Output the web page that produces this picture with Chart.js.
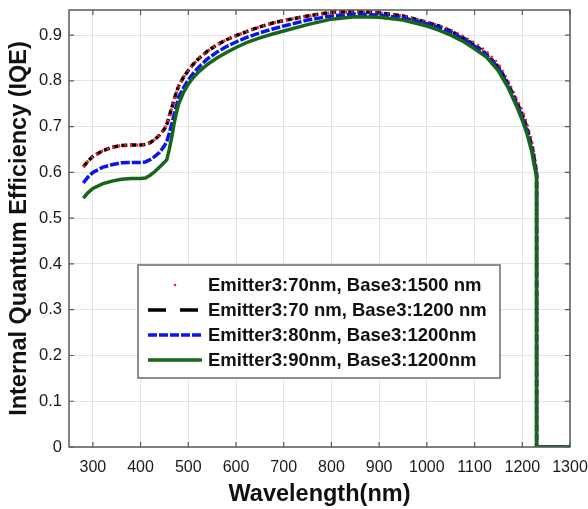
<!DOCTYPE html>
<html>
<head>
<meta charset="utf-8">
<script src="https://cdn.jsdelivr.net/npm/chart.js@4"></script>
<style>
  html, body { margin: 0; padding: 0; background: #fff; }
  #wrap { width: 588px; height: 509px; }
</style>
</head>
<body>
<div id="wrap"><canvas id="iqe"></canvas></div>
<script>
// wavelength samples (nm); 1230 repeats for the vertical cut-off
const WAVELENGTH = [280, 290, 300, 320, 340, 360, 380, 400, 410, 420, 430, 440, 450, 455, 460, 465, 470, 475, 480, 490,
  500, 510, 520, 540, 560, 580, 600, 625, 650, 675, 700, 750, 800, 850, 900, 950, 1000, 1025, 1050, 1075,
  1100, 1125, 1150, 1170, 1190, 1200, 1210, 1220, 1225, 1230, 1230, 1300];

const IQE_E70_B1500 = [0.612, 0.625, 0.635, 0.647, 0.655, 0.659, 0.660, 0.660, 0.661, 0.665, 0.672, 0.682, 0.695, 0.705, 0.722, 0.740, 0.758, 0.775, 0.789, 0.808,
  0.823, 0.836, 0.847, 0.865, 0.879, 0.890, 0.899, 0.909, 0.918, 0.926, 0.932, 0.942, 0.949, 0.951, 0.948, 0.942, 0.929, 0.921, 0.911, 0.898,
  0.883, 0.864, 0.837, 0.800, 0.757, 0.735, 0.705, 0.668, 0.640, 0.605, 0, 0];

const IQE_E70_B1200 = [0.612, 0.625, 0.635, 0.647, 0.655, 0.659, 0.660, 0.660, 0.661, 0.665, 0.672, 0.682, 0.695, 0.705, 0.722, 0.740, 0.758, 0.775, 0.789, 0.808,
  0.823, 0.836, 0.847, 0.865, 0.879, 0.890, 0.899, 0.909, 0.918, 0.926, 0.932, 0.942, 0.950, 0.952, 0.949, 0.942, 0.928, 0.920, 0.909, 0.895,
  0.879, 0.859, 0.831, 0.794, 0.750, 0.727, 0.697, 0.658, 0.630, 0.598, 0, 0];

const IQE_E80_B1200 = [0.577, 0.590, 0.600, 0.611, 0.617, 0.621, 0.622, 0.622, 0.623, 0.628, 0.635, 0.644, 0.658, 0.668, 0.685, 0.705, 0.725, 0.745, 0.765, 0.785,
  0.802, 0.816, 0.828, 0.848, 0.863, 0.875, 0.885, 0.896, 0.905, 0.913, 0.920, 0.933, 0.942, 0.946, 0.944, 0.938, 0.925, 0.917, 0.906, 0.893,
  0.876, 0.857, 0.828, 0.791, 0.745, 0.720, 0.690, 0.652, 0.624, 0.594, 0, 0];

const IQE_E90_B1200 = [0.544, 0.556, 0.565, 0.575, 0.581, 0.585, 0.587, 0.587, 0.588, 0.594, 0.602, 0.612, 0.622, 0.628, 0.650, 0.675, 0.705, 0.730, 0.750, 0.775,
  0.793, 0.807, 0.818, 0.836, 0.850, 0.862, 0.873, 0.885, 0.894, 0.902, 0.909, 0.923, 0.935, 0.940, 0.939, 0.933, 0.920, 0.911, 0.900, 0.887,
  0.870, 0.852, 0.822, 0.786, 0.740, 0.714, 0.684, 0.645, 0.616, 0.590, 0, 0];

const SERIES_LABELS = ['Emitter3:70nm, Base3:1500 nm', 'Emitter3:70 nm, Base3:1200 nm',
  'Emitter3:80nm, Base3:1200nm', 'Emitter3:90nm, Base3:1200nm'];

const X_TICKS = [300, 400, 500, 600, 700, 800, 900, 1000, 1100, 1200, 1300];
const Y_TICKS = [0, 0.1, 0.2, 0.3, 0.4, 0.5, 0.6, 0.7, 0.8, 0.9];

const FONT = "'Liberation Sans', Arial, sans-serif";

const toPoints = (ys) => WAVELENGTH.map((x, i) => ({ x, y: ys[i] }));

// box round the plot, with inward ticks on all four sides
const frame = {
  id: 'frame',
  afterDatasetsDraw(chart) {
    const { ctx, chartArea: a, scales } = chart;
    ctx.save();
    ctx.strokeStyle = '#5a5a5a';
    ctx.lineWidth = 1.5;
    ctx.strokeRect(a.left, a.top, a.right - a.left, a.bottom - a.top);
    ctx.lineWidth = 1.2;
    ctx.beginPath();
    for (const v of X_TICKS) {
      const px = scales.x.getPixelForValue(v);
      ctx.moveTo(px, a.bottom); ctx.lineTo(px, a.bottom - 5);
      ctx.moveTo(px, a.top); ctx.lineTo(px, a.top + 5);
    }
    for (const v of Y_TICKS) {
      const py = scales.y.getPixelForValue(v);
      ctx.moveTo(a.left, py); ctx.lineTo(a.left + 5, py);
      ctx.moveTo(a.right, py); ctx.lineTo(a.right - 5, py);
    }
    ctx.stroke();
    ctx.restore();
  },
};

// MATLAB-like legend box inside the plot
const legendBox = {
  id: 'legendBox',
  afterDraw(chart) {
    const { ctx, chartArea: a } = chart;
    const x0 = a.left + 69, y0 = a.top + 255, w = 362, h = 113;
    ctx.save();
    ctx.fillStyle = '#fff';
    ctx.fillRect(x0, y0, w, h);
    ctx.strokeStyle = '#6a6a6a';
    ctx.lineWidth = 1.5;
    ctx.strokeRect(x0, y0, w, h);

    chart.data.datasets.forEach((ds, i) => {
      const cy = y0 + 20 + i * 25;
      ctx.save();
      if (i === 0) {
        ctx.fillStyle = ds.borderColor;
        ctx.beginPath();
        ctx.arc(x0 + 37, cy, 1.3, 0, Math.PI * 2);
        ctx.fill();
      } else {
        ctx.strokeStyle = ds.borderColor;
        ctx.lineWidth = 3.5;
        ctx.setLineDash(i === 1 ? [18, 14] : (ds.borderDash || []));
        ctx.beginPath();
        ctx.moveTo(x0 + 10, cy);
        ctx.lineTo(x0 + 64, cy);
        ctx.stroke();
      }
      ctx.restore();
      ctx.fillStyle = '#111';
      ctx.font = 'bold 18.5px ' + FONT;
      ctx.textBaseline = 'middle';
      ctx.fillText(ds.label, x0 + 70, cy + 1);
    });
    ctx.restore();
  },
};

new Chart(document.getElementById('iqe'), {
  type: 'line',
  data: {
    datasets: [
      {
        label: SERIES_LABELS[0],
        data: toPoints(IQE_E70_B1500),
        borderColor: '#ff1a1a',
        borderWidth: 3,
        borderDash: [2, 4],
        order: 2,
      },
      {
        label: SERIES_LABELS[1],
        data: toPoints(IQE_E70_B1200),
        borderColor: '#000000',
        borderWidth: 3.5,
        borderDash: [6, 3],
        order: 3,
      },
      {
        label: SERIES_LABELS[2],
        data: toPoints(IQE_E80_B1200),
        borderColor: '#0a14f0',
        borderWidth: 3.5,
        borderDash: [9, 2],
        order: 1,
      },
      {
        label: SERIES_LABELS[3],
        data: toPoints(IQE_E90_B1200),
        borderColor: '#16661a',
        borderWidth: 3.5,
        order: 0,
      },
    ],
  },
  options: {
    responsive: true,
    maintainAspectRatio: false,
    animation: false,
    elements: { point: { radius: 0 }, line: { tension: 0 } },
    layout: { padding: { top: 10, right: 18, left: 0, bottom: 0 } },
    plugins: {
      legend: { display: false },
      tooltip: { enabled: false },
    },
    scales: {
      x: {
        type: 'linear',
        min: 250,
        max: 1300,
        afterBuildTicks: (scale) => { scale.ticks = X_TICKS.map((value) => ({ value })); },
        afterFit: (scale) => {
          scale.height = 62;
          scale.paddingLeft = 0;
          scale.paddingRight = 0;
        },
        grid: { color: '#e4e4e4', drawTicks: false },
        border: { display: false },
        ticks: {
          color: '#1a1a1a', padding: 11, maxRotation: 0, autoSkip: false,
          font: { family: FONT, size: 16 },
          callback: (v) => String(v),
        },
        title: {
          display: true,
          text: 'Wavelength(nm)',
          color: '#111',
          padding: { top: 3, bottom: 0 },
          font: { family: FONT, size: 23.5, weight: 'bold' },
        },
      },
      y: {
        min: 0,
        max: 0.955,
        afterBuildTicks: (scale) => { scale.ticks = Y_TICKS.map((value) => ({ value })); },
        afterFit: (scale) => {
          scale.width = 69;
          scale.paddingTop = 0;
          scale.paddingBottom = 0;
        },
        grid: { color: '#e4e4e4', drawTicks: false },
        border: { display: false },
        ticks: {
          color: '#1a1a1a', padding: 7, autoSkip: false,
          font: { family: FONT, size: 16.5 },
          callback: (v) => String(v),
        },
        title: {
          display: true,
          text: 'Internal Quantum Efficiency (IQE)',
          color: '#111',
          padding: { top: 5, bottom: 4 },
          font: { family: FONT, size: 23.5, weight: 'bold' },
        },
      },
    },
  },
  plugins: [frame, legendBox],
});
</script>
</body>
</html>
